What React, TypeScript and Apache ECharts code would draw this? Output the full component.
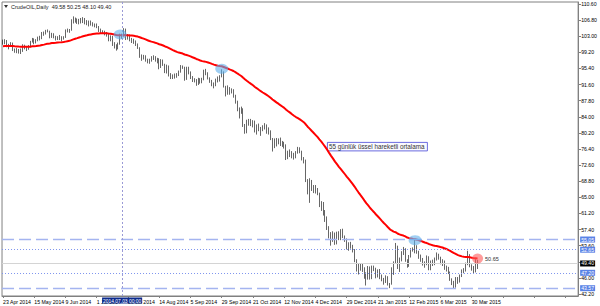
import React, { useEffect, useRef } from 'react';
import * as echarts from 'echarts';

// Bottom axis labels: one every 16 trading bars, starting at bar 0
const dateLabels = [
  '23 Apr 2014', '15 May 2014', '9 Jun 2014', '1 Jul 2014', '23 Jul 2014', '14 Aug 2014',
  '5 Sep 2014', '29 Sep 2014', '21 Oct 2014', '12 Nov 2014', '4 Dec 2014', '29 Dec 2014',
  '21 Jan 2015', '12 Feb 2015', '6 Mar 2015', '30 Mar 2015',
];

// Right axis tick labels
const yTicks = [110.6, 106.8, 103.0, 99.2, 95.4, 91.6, 87.8, 84.0, 80.2, 76.4, 72.6, 68.8, 65.0, 61.2, 57.4, 53.6, 49.8, 46.0, 42.2];
const hiddenTickLabels = [49.8]; // fully covered by the current-price box

// Daily bars: [open, close, low, high]
const apr14 = [
  [101.70, 101.44, 101.00, 102.20], [101.44, 101.94, 101.10, 102.30], [101.94, 100.60, 100.40, 102.10],
  [100.60, 100.84, 99.90, 101.20], [100.84, 101.28, 100.50, 101.60], [101.28, 99.74, 99.50, 101.50],
];
const may14 = [
  [99.74, 99.42, 99.10, 100.10], [99.42, 99.76, 99.00, 100.20], [99.76, 99.48, 98.90, 100.00],
  [99.48, 99.50, 98.80, 100.10], [99.50, 100.77, 99.30, 101.10], [100.77, 100.26, 99.90, 101.00],
  [100.26, 99.99, 99.50, 100.70], [99.99, 100.59, 99.80, 100.90], [100.59, 101.70, 100.40, 101.90],
  [101.70, 102.37, 101.50, 102.60], [102.37, 101.50, 101.10, 102.50], [101.50, 102.02, 101.30, 102.30],
  [102.02, 102.61, 101.80, 102.90], [102.61, 102.44, 102.00, 103.10], [102.44, 103.77, 102.30, 104.00],
  [103.77, 103.70, 103.10, 104.10], [103.70, 104.35, 103.40, 104.50], [104.35, 104.11, 103.90, 104.60],
  [104.11, 102.72, 102.50, 104.30], [102.72, 103.58, 102.60, 103.80], [103.58, 102.71, 102.50, 103.70],
];
const jun14 = [
  [102.71, 102.47, 102.00, 103.10], [102.47, 102.66, 102.10, 103.00], [102.66, 102.64, 102.10, 103.30],
  [102.64, 102.48, 101.80, 103.00], [102.48, 102.66, 102.20, 103.00], [102.66, 104.41, 102.60, 104.60],
  [104.41, 104.35, 103.90, 104.80], [104.35, 104.40, 103.80, 104.70], [104.40, 106.53, 104.30, 107.00],
  [106.53, 106.91, 106.00, 107.68], [106.91, 106.90, 106.20, 107.40], [106.90, 106.36, 105.90, 107.20],
  [106.36, 106.97, 105.80, 107.10], [106.97, 106.43, 106.00, 107.30], [106.43, 107.26, 106.10, 107.50],
  [107.26, 106.17, 105.80, 107.30], [106.17, 106.03, 105.60, 106.80], [106.03, 106.50, 105.30, 106.70],
  [106.50, 105.84, 105.50, 106.70], [105.84, 105.74, 105.30, 106.30], [105.74, 105.37, 105.10, 106.00],
];
const jul14 = [
  [105.37, 105.34, 104.90, 106.00], [105.34, 104.48, 104.00, 105.40], [104.48, 104.06, 103.70, 104.80],
  [104.06, 104.00, 103.60, 104.40], [104.00, 103.53, 103.20, 104.30], [103.53, 103.40, 102.90, 104.00],
  [103.40, 102.29, 101.80, 103.60], [102.29, 102.93, 101.80, 103.20], [102.93, 100.83, 100.70, 103.10],
  [100.83, 100.91, 100.10, 101.60], [100.91, 99.96, 99.60, 101.10], [99.96, 101.20, 99.90, 101.50],
  [101.20, 103.19, 101.00, 103.60], [103.19, 103.13, 102.40, 103.60], [103.13, 104.59, 102.90, 104.90],
  [104.59, 102.39, 102.10, 104.80], [102.39, 103.12, 102.20, 103.50], [103.12, 102.07, 101.80, 103.40],
  [102.07, 102.09, 101.40, 102.60], [102.09, 101.67, 101.20, 102.40], [101.67, 100.97, 100.70, 102.00],
  [100.97, 100.27, 100.00, 101.30], [100.27, 98.17, 97.90, 100.40],
];
const aug14 = [
  [98.17, 97.88, 97.20, 98.70], [97.88, 98.29, 97.50, 98.60], [98.29, 97.38, 97.00, 98.50],
  [97.38, 96.92, 96.60, 97.70], [96.92, 97.34, 96.50, 97.70], [97.34, 97.65, 97.00, 98.30],
  [97.65, 98.08, 97.40, 98.50], [98.08, 97.37, 97.00, 98.30], [97.37, 97.59, 96.60, 97.90],
  [97.59, 95.58, 95.20, 97.80], [95.58, 97.35, 95.50, 97.60], [97.35, 96.41, 96.00, 97.50],
  [96.41, 94.48, 94.30, 96.50], [94.48, 96.07, 94.20, 96.30], [96.07, 93.96, 93.50, 96.10],
  [93.96, 93.65, 92.90, 94.30], [93.65, 93.35, 92.90, 94.00], [93.35, 93.86, 93.00, 94.20],
  [93.86, 93.88, 93.20, 94.30], [93.88, 94.55, 93.60, 94.90], [94.55, 95.96, 94.40, 96.20],
];
const sep14 = [
  [95.96, 95.60, 95.30, 96.10], [95.60, 92.88, 92.50, 95.80], [92.88, 95.54, 92.70, 95.80],
  [95.54, 94.45, 94.00, 95.80], [94.45, 93.29, 92.90, 94.70], [93.29, 92.66, 92.20, 93.60],
  [92.66, 92.75, 92.10, 93.10], [92.75, 91.67, 91.30, 92.90], [91.67, 92.83, 91.50, 93.20],
  [92.83, 92.27, 91.80, 93.10], [92.27, 92.92, 91.90, 93.20], [92.92, 94.88, 92.60, 95.10],
  [94.88, 94.42, 93.80, 95.30], [94.42, 93.07, 92.80, 94.50], [93.07, 92.41, 92.00, 93.30],
  [92.41, 91.52, 91.20, 92.70], [91.52, 91.56, 90.70, 92.10], [91.56, 92.80, 91.20, 93.00],
  [92.80, 92.53, 92.10, 93.50], [92.53, 93.54, 92.30, 93.80], [93.54, 94.57, 93.30, 95.20],
  [94.57, 91.16, 90.90, 94.70],
];
const oct14 = [
  [91.16, 90.73, 88.80, 91.30], [90.73, 91.01, 89.20, 91.40], [91.01, 89.74, 89.20, 91.00],
  [89.74, 90.34, 89.50, 90.70], [90.34, 88.85, 88.50, 90.50], [88.85, 87.31, 87.10, 89.20],
  [87.31, 85.77, 85.30, 87.80], [85.77, 85.82, 83.60, 86.20], [85.82, 85.74, 84.70, 86.40],
  [85.74, 81.84, 81.60, 86.00], [81.84, 81.78, 80.00, 82.30], [81.78, 82.70, 80.10, 83.30],
  [82.70, 82.75, 81.90, 83.50], [82.75, 82.71, 81.80, 83.50], [82.71, 82.49, 81.50, 83.20],
  [82.49, 80.52, 80.30, 83.10], [80.52, 82.09, 79.80, 82.20], [82.09, 81.01, 80.60, 82.40],
  [81.01, 81.00, 79.50, 81.60], [81.00, 81.42, 80.60, 82.00], [81.42, 82.20, 81.00, 82.50],
  [82.20, 81.12, 80.00, 82.20], [81.12, 80.54, 79.80, 81.50],
];
const nov14 = [
  [80.54, 78.78, 78.50, 80.80], [78.78, 77.19, 75.80, 79.00], [77.19, 78.68, 76.60, 78.90],
  [78.68, 77.91, 77.00, 79.00], [77.91, 78.65, 77.50, 78.90], [78.65, 77.40, 77.10, 79.10],
  [77.40, 77.94, 76.90, 78.30], [77.94, 77.18, 76.50, 78.10], [77.18, 74.21, 73.80, 77.50],
  [74.21, 75.82, 74.00, 76.00], [75.82, 75.64, 74.50, 76.30], [75.64, 74.61, 74.20, 75.90],
  [74.61, 74.58, 73.90, 75.50], [74.58, 75.58, 74.20, 75.90], [75.58, 76.51, 75.30, 76.90],
  [76.51, 75.78, 75.40, 76.80], [75.78, 74.09, 73.70, 76.00], [74.09, 73.69, 73.00, 74.50],
  [73.69, 69.05, 68.60, 73.90], [69.05, 66.15, 65.70, 69.30],
];
const dec14 = [
  [66.15, 69.00, 63.70, 69.50], [69.00, 66.88, 66.50, 69.10], [66.88, 67.38, 66.00, 67.90],
  [67.38, 66.81, 65.90, 67.90], [66.81, 65.84, 65.50, 67.20], [65.84, 63.05, 62.70, 66.10],
  [63.05, 63.82, 61.80, 64.10], [63.82, 60.94, 60.70, 63.90], [60.94, 59.95, 59.20, 62.00],
  [59.95, 57.81, 57.30, 60.50], [57.81, 55.91, 55.30, 58.20], [55.91, 55.93, 53.60, 56.80],
  [55.93, 56.47, 54.50, 57.00], [56.47, 54.11, 53.80, 56.70], [54.11, 56.52, 53.90, 56.90],
  [56.52, 55.26, 54.90, 57.00], [55.26, 57.12, 54.90, 57.50], [57.12, 55.84, 55.40, 57.60],
  [55.84, 54.73, 54.50, 56.00], [54.73, 53.61, 52.70, 55.30], [53.61, 54.12, 52.40, 54.40],
  [54.12, 53.27, 52.90, 54.50],
];
const jan15 = [
  [53.27, 52.69, 52.00, 53.80], [52.69, 50.04, 49.70, 52.80], [50.04, 47.93, 47.50, 50.40],
  [47.93, 48.65, 46.80, 49.30], [48.65, 48.79, 47.70, 49.30], [48.79, 48.36, 47.40, 49.50],
  [48.36, 46.07, 45.80, 48.50], [46.07, 45.89, 44.20, 47.30], [45.89, 48.48, 45.60, 48.80],
  [48.48, 46.25, 45.60, 48.70], [46.25, 48.69, 45.70, 48.90], [48.69, 48.20, 47.60, 48.90],
  [48.20, 46.39, 45.90, 48.40], [46.39, 47.78, 46.10, 48.00], [47.78, 46.31, 45.70, 48.10],
  [46.31, 45.59, 45.20, 46.80], [45.59, 45.15, 44.40, 46.00], [45.15, 46.23, 44.80, 46.60],
  [46.23, 44.45, 44.20, 46.40], [44.45, 44.53, 43.58, 44.80], [44.53, 48.24, 44.40, 48.50],
];
const feb15 = [
  [48.24, 49.57, 46.70, 49.90], [49.57, 53.05, 49.30, 54.24], [53.05, 48.45, 48.10, 53.60],
  [48.45, 50.48, 47.40, 50.80], [50.48, 51.69, 49.90, 52.30], [51.69, 52.86, 51.40, 53.30],
  [52.86, 50.02, 49.80, 53.00], [50.02, 48.84, 48.40, 50.40], [48.84, 51.21, 48.60, 51.40],
  [51.21, 52.78, 50.80, 53.00], [52.78, 52.60, 52.20, 53.20], [52.60, 53.53, 51.80, 55.00],
  [53.53, 52.14, 51.70, 53.70], [52.14, 51.16, 50.50, 52.40], [51.16, 50.34, 49.80, 51.50],
  [50.34, 49.45, 48.90, 50.70], [49.45, 49.25, 48.40, 49.90], [49.25, 50.99, 49.00, 51.30],
  [50.99, 48.17, 47.80, 51.10], [48.17, 49.76, 47.80, 50.10],
];
const mar15 = [
  [49.76, 49.59, 48.80, 50.30], [49.59, 50.52, 49.00, 50.80], [50.52, 51.53, 50.10, 52.00],
  [51.53, 50.76, 50.30, 51.70], [50.76, 49.61, 49.20, 51.00], [49.61, 50.00, 48.80, 50.40],
  [50.00, 48.29, 47.90, 50.10], [48.29, 48.17, 47.50, 48.90], [48.17, 47.30, 46.90, 48.60],
  [47.30, 45.60, 45.30, 47.50], [45.60, 44.90, 44.30, 45.90], [44.90, 44.60, 43.60, 45.30],
  [44.60, 45.80, 43.70, 46.20], [45.80, 45.10, 44.60, 46.20], [45.10, 46.40, 44.90, 46.80],
  [46.40, 47.60, 46.20, 48.00], [47.60, 47.90, 47.10, 48.30], [47.90, 49.30, 47.50, 49.60],
  [49.30, 51.40, 49.00, 52.40], [51.40, 48.87, 48.50, 51.60], [48.87, 48.68, 47.70, 49.20],
  [48.68, 47.60, 47.10, 48.80],
];
const apr15 = [
  [47.60, 50.09, 47.30, 50.40], [49.58, 49.40, 48.10, 50.25],
];

const emaPeriod = 55;
const emaSeed = 100.6; // EMA value just before the first visible bar
const totalSlots = 295; // visible bar slots incl. right-hand empty shift

// Horizontal level lines: [value, label, style]
const levels: [number, string, string][] = [
  [55.05, '55.05', 'dash'],
  [52.65, '52.65', 'dot'],
  [49.4, '49.40', 'price'],
  [47.2, '47.20', 'dot'],
  [43.57, '43.57', 'dash'],
];
// Highlighted touches: [bar index, price]
const blueMarks = [[60, 103.4], [112, 95.3], [211, 54.9]];
const redMark = [243, 50.55];
const redMarkLabel = '50.65';
const crossBar = 61;
const crossLabel = '2014.07.03 00:00';
const titleText = 'CrudeOIL,Daily  49.58 50.25 48.10 49.40';
const noteText = '55 günlük üssel hareketli ortalama';

const FONT = 'Liberation Sans, Arial, sans-serif';

export default function App() {
  const ref = useRef<HTMLDivElement>(null);
  useEffect(() => {
    if (!ref.current) return;
    const chart = echarts.init(ref.current, undefined, { renderer: 'svg' });
    const bars = [...apr14, ...may14, ...jun14, ...jul14, ...aug14, ...sep14, ...oct14, ...nov14, ...dec14, ...jan15, ...feb15, ...mar15, ...apr15];
    const k = 2 / (emaPeriod + 1);
    const ema: number[] = [];
    let prev = emaSeed;
    bars.forEach((b) => {
      prev = prev + k * (b[1] - prev);
      ema.push(+prev.toFixed(3));
    });
    const cats = Array.from({ length: totalSlots }, (_, i) => String(i));

    const levelData = levels.map(([v, lab, kind]) => {
      const isPrice = kind === 'price';
      return {
        yAxis: v,
        lineStyle: {
          color: isPrice ? '#d4d4d4' : kind === 'dash' ? '#a4b4f0' : '#7f95ee',
          width: kind === 'dash' ? 1.3 : 1,
          type: kind === 'dash' ? [12, 5] : kind === 'dot' ? [1, 2] : 'solid',
        },
        label: {
          show: true,
          position: 'end',
          formatter: lab,
          distance: 2,
          color: '#fff',
          backgroundColor: isPrice ? '#000' : '#5a82e6',
          padding: [1, 1, 0, 1],
          fontSize: 5.2,
          fontFamily: FONT,
        },
      };
    });

    chart.setOption({
      animation: false,
      backgroundColor: '#fff',
      grid: { left: 2, right: 21, top: 2, bottom: 10, show: true, borderColor: '#808080', borderWidth: 1 },
      xAxis: {
        type: 'category',
        data: cats,
        boundaryGap: true,
        axisLine: { show: true, lineStyle: { color: '#808080' } },
        axisTick: { show: true, interval: 15, alignWithLabel: true, length: 2, lineStyle: { color: '#808080' } },
        axisLabel: {
          interval: 15,
          align: 'left',
          margin: 3,
          fontSize: 5.2,
          fontFamily: FONT,
          color: '#000',
          formatter: (_v: string, i: number) => (i % 16 === 0 && i / 16 < dateLabels.length ? dateLabels[i / 16] : ''),
        },
        splitLine: { show: false },
      },
      yAxis: {
        type: 'value',
        position: 'right',
        min: 41.73,
        max: 111.07,
        scale: true,
        axisLine: { show: true, lineStyle: { color: '#808080' } },
        axisTick: { show: true, length: 3, customValues: yTicks, lineStyle: { color: '#808080' } },
        axisLabel: {
          customValues: yTicks,
          margin: 3,
          fontSize: 5.2,
          fontFamily: FONT,
          color: '#000',
          formatter: (v: number) => (hiddenTickLabels.some((h) => Math.abs(h - v) < 1e-6) ? '' : v.toFixed(2)),
        },
        splitLine: { show: false },
      },
      series: [
        {
          type: 'candlestick',
          data: bars,
          barWidth: 1.1,
          itemStyle: { color: '#000', color0: '#000', borderColor: '#000', borderColor0: '#000', borderWidth: 0.6 },
          markLine: {
            silent: true,
            symbol: ['none', 'none'],
            animation: false,
            data: [
              ...levelData,
              {
                xAxis: crossBar,
                lineStyle: { color: '#9a9ad6', width: 1, type: [2, 2] },
                label: { show: false },
              },
            ],
          },
        },
        {
          type: 'line',
          data: ema,
          showSymbol: false,
          symbol: 'none',
          lineStyle: { color: '#ff0000', width: 2 },
          z: 3,
          markPoint: {
            silent: true,
            animation: false,
            data: [
              ...blueMarks.map((m) => ({
                coord: m,
                symbol: 'circle',
                symbolSize: [13, 10],
                itemStyle: { color: 'rgba(95,175,235,0.6)' },
                label: { show: false },
              })),
              {
                coord: redMark,
                symbol: 'circle',
                symbolSize: [11, 10],
                itemStyle: { color: 'rgba(255,90,90,0.6)' },
                label: {
                  show: true,
                  position: 'right',
                  distance: 2,
                  formatter: redMarkLabel,
                  color: '#333',
                  fontSize: 5.5,
                  fontFamily: FONT,
                },
              },
            ],
          },
        },
      ],
    });

    // crosshair date box on the time axis, centred on the vertical line
    const crossX = chart.convertToPixel({ xAxisIndex: 0 }, crossBar) as number;
    chart.setOption({
      graphic: [
        {
          type: 'polygon',
          shape: { points: [[4, 5], [8, 5], [6, 8]] },
          style: { fill: '#333' },
        },
        {
          type: 'text',
          left: 11,
          top: 4,
          style: { text: titleText, fontSize: 5.5, fontFamily: FONT, fill: '#222' },
        },
        {
          type: 'group',
          left: 327,
          top: 142,
          children: [
            { type: 'rect', shape: { x: 0, y: 0, width: 100, height: 8.5 }, style: { fill: '#fafaff', stroke: '#4848d8', lineWidth: 0.8 } },
            { type: 'text', x: 1.5, y: 1.2, style: { text: noteText, fontSize: 6.3, fontFamily: FONT, fill: '#333' } },
          ],
        },
        {
          type: 'text',
          x: crossX,
          y: 297.5,
          z: 100,
          style: {
            text: crossLabel,
            align: 'center',
            verticalAlign: 'top',
            fontSize: 4.9,
            fontFamily: FONT,
            fill: '#fff',
            backgroundColor: '#0c2a8c',
            padding: [1, 1, 0, 1],
          },
        },
      ],
    });
    return () => chart.dispose();
  }, []);
  return <div ref={ref} style={{ position: 'fixed', left: 0, top: 0, width: 600, height: 306, background: '#fff' }} />;
}
